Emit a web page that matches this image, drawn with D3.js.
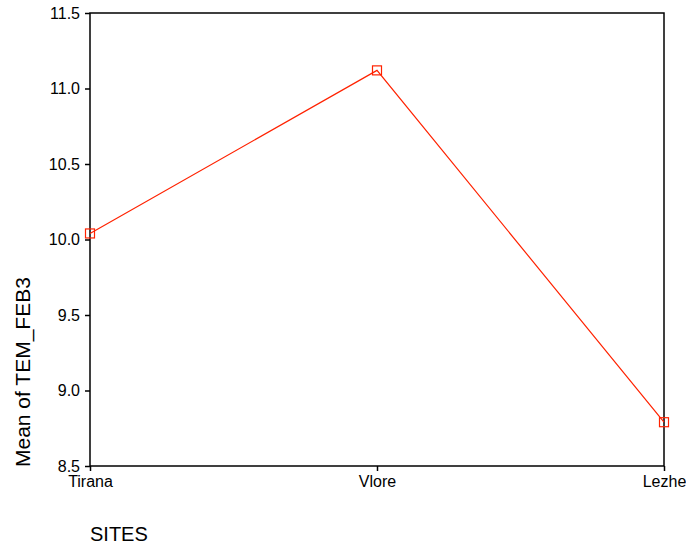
<!DOCTYPE html>
<html>
<head>
<meta charset="utf-8">
<script src="https://cdn.jsdelivr.net/npm/d3@7"></script>
<style>
body{margin:0;background:#fff;}
svg{display:block;font-family:Arial,"Liberation Sans",sans-serif;}
</style>
</head>
<body>
<svg id="chart" width="686" height="547"></svg>
<script>
const categories = ["Tirana", "Vlore", "Lezhe"];
const values = [10.04, 11.12, 8.79];
const yTicks = [8.5, 9.0, 9.5, 10.0, 10.5, 11.0, 11.5];

const svg = d3.select("#chart");
const mLeft = 90, mRight = 664, mTop = 13, mBottom = 466;
const color = "#ff2200";

const x = d3.scalePoint().domain(categories).range([mLeft, mRight]);
const y = d3.scaleLinear().domain([8.5, 11.5]).range([mBottom, mTop]);

// frame
svg.append("rect").attr("x", mLeft).attr("y", mTop)
  .attr("width", mRight - mLeft).attr("height", mBottom - mTop)
  .attr("fill", "none").attr("stroke", "#000").attr("stroke-width", 1.5);

const yAxis = svg.append("g").attr("transform", `translate(${mLeft},0)`)
  .call(d3.axisLeft(y).tickValues(yTicks).tickFormat(d3.format(".1f")).tickSize(5).tickPadding(5));
yAxis.select(".domain").remove();
yAxis.selectAll("text").attr("font-size", 16).attr("font-family", "Arial, 'Liberation Sans', sans-serif").attr("fill", "#000");
yAxis.selectAll("line").attr("stroke", "#000").attr("stroke-width", 1.5);

const xAxis = svg.append("g").attr("transform", `translate(0,${mBottom})`)
  .call(d3.axisBottom(x).tickSize(5).tickPadding(5));
xAxis.select(".domain").remove();
xAxis.selectAll("text").attr("font-size", 16).attr("font-family", "Arial, 'Liberation Sans', sans-serif").attr("fill", "#000");
xAxis.selectAll("line").attr("stroke", "#000").attr("stroke-width", 1.5);

// line
const line = d3.line().x((d, i) => x(categories[i])).y(d => y(d));
svg.append("path").datum(values).attr("d", line)
  .attr("fill", "none").attr("stroke", color).attr("stroke-width", 1.2);

// markers
svg.selectAll("rect.m").data(values).enter().append("rect").attr("class", "m")
  .attr("x", (d, i) => x(categories[i]) - 4.5).attr("y", d => y(d) - 4.5)
  .attr("width", 9).attr("height", 9)
  .attr("fill", "none").attr("stroke", color).attr("stroke-width", 1.2);

// axis titles
svg.append("text").attr("transform", "translate(30,467) rotate(-90)")
  .attr("text-anchor", "start").attr("font-size", 21).attr("fill", "#000")
  .text("Mean of TEM_FEB3");
svg.append("text").attr("x", 90).attr("y", 541)
  .attr("font-size", 20).attr("fill", "#000").text("SITES");
</script>
</body>
</html>
